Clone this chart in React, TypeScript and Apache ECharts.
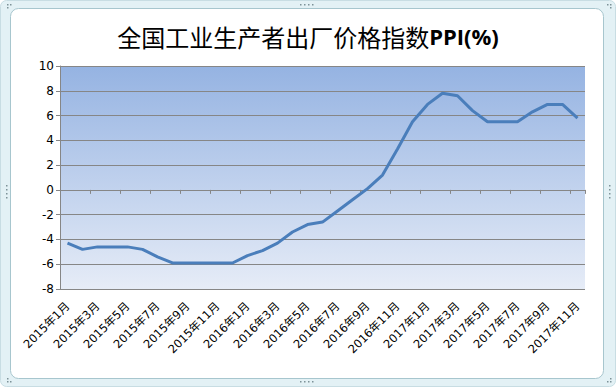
import React, { useEffect, useRef } from "react";
import * as echarts from "echarts";

const categories = [
  "2015年1月","2015年2月","2015年3月","2015年4月","2015年5月","2015年6月","2015年7月","2015年8月","2015年9月","2015年10月","2015年11月","2015年12月",
  "2016年1月","2016年2月","2016年3月","2016年4月","2016年5月","2016年6月","2016年7月","2016年8月","2016年9月","2016年10月","2016年11月","2016年12月",
  "2017年1月","2017年2月","2017年3月","2017年4月","2017年5月","2017年6月","2017年7月","2017年8月","2017年9月","2017年10月","2017年11月",
];
const ppi = [
  -4.3, -4.8, -4.6, -4.6, -4.6, -4.8, -5.4, -5.9, -5.9, -5.9, -5.9, -5.9,
  -5.3, -4.9, -4.3, -3.4, -2.8, -2.6, -1.7, -0.8, 0.1, 1.2, 3.3, 5.5,
  6.9, 7.8, 7.6, 6.4, 5.5, 5.5, 5.5, 6.3, 6.9, 6.9, 5.8,
];
const yMin = -8;
const yMax = 10;
const yStep = 2;
const titleMain = "全国工业生产者出厂价格指数";
const titleSuffix = "PPI(%)";

const FONT = "'DejaVu Sans', 'Noto Sans CJK SC', sans-serif";

function dots(x: number, y: number, n: number, dx: number, dy: number) {
  const out: any[] = [];
  for (let i = 0; i < n; i++) {
    out.push({
      type: "rect",
      shape: { x: x + i * dx, y: y + i * dy, width: 1.5, height: 1.5 },
      style: { fill: "#7d9298" },
      silent: true,
    });
  }
  return out;
}

export default function App() {
  const ref = useRef<HTMLDivElement>(null);
  useEffect(() => {
    if (!ref.current) return;
    const chart = echarts.init(ref.current, undefined, { renderer: "svg" });
    chart.setOption({
      animation: false,
      backgroundColor: "#ffffff",
      graphic: [
        {
          type: "rect",
          z: -10,
          shape: { x: 0.5, y: 0.5, width: 615, height: 386, r: 6 },
          style: { fill: "#e3f1f5", stroke: "#c8dde3", lineWidth: 1 },
          silent: true,
        },
        {
          type: "rect",
          z: -9,
          shape: { x: 10.5, y: 8.5, width: 593, height: 370, r: 8 },
          style: { fill: "#ffffff", stroke: "#a7c6ce", lineWidth: 1 },
          silent: true,
        },
        ...dots(300, 4, 4, 4, 0),
        ...dots(300, 381, 4, 4, 0),
        ...dots(6, 185, 4, 0, 4),
        ...dots(609, 185, 4, 0, 4),
        ...dots(7, 4, 2, 3, 0),
        ...dots(7, 7, 1, 0, 0),
        ...dots(607, 4, 2, 3, 0),
        ...dots(610, 7, 1, 0, 0),
        ...dots(7, 381, 2, 3, 0),
        ...dots(7, 378, 1, 0, 0),
        ...dots(607, 381, 2, 3, 0),
        ...dots(610, 378, 1, 0, 0),
      ],
      title: {
        text: `{a|${titleMain}}{b|${titleSuffix}}`,
        left: "center",
        top: 16,
        textStyle: {
          rich: {
            a: {
              fontFamily: "'Noto Sans CJK SC', sans-serif",
              fontSize: 24,
              fontWeight: "normal",
              color: "#000000",
              lineHeight: 30,
            },
            b: {
              fontFamily: "'Open Sans', 'DejaVu Sans', sans-serif",
              fontSize: 22,
              fontWeight: "bold",
              color: "#000000",
              lineHeight: 30,
            },
          },
        },
      },
      grid: {
        left: 60,
        right: 31,
        top: 66,
        bottom: 98,
        show: true,
        borderWidth: 0,
        backgroundColor: new echarts.graphic.LinearGradient(0, 0, 0, 1, [
          { offset: 0, color: "#95b3e2" },
          { offset: 1, color: "#e6ecf7" },
        ]),
      },
      xAxis: {
        type: "category",
        data: categories,
        boundaryGap: true,
        axisLine: { show: true, lineStyle: { color: "#868686", width: 1 } },
        axisTick: { show: true, interval: 1, length: 4, lineStyle: { color: "#868686" } },
        axisLabel: {
          interval: 1,
          rotate: 45,
          margin: 15,
          fontSize: 11.5,
          fontFamily: FONT,
          color: "#000000",
        },
        splitLine: { show: false },
      },
      yAxis: {
        type: "value",
        min: yMin,
        max: yMax,
        interval: yStep,
        axisLine: { show: true, lineStyle: { color: "#868686", width: 1 } },
        axisTick: { show: true, length: 4, lineStyle: { color: "#868686" } },
        axisLabel: { fontSize: 12, fontFamily: FONT, color: "#000000", margin: 6 },
        splitLine: { show: true, lineStyle: { color: "#868686", width: 1 } },
      },
      series: [
        {
          type: "line",
          data: ppi,
          symbol: "none",
          smooth: false,
          lineStyle: { color: "#4a7ebb", width: 3 },
          itemStyle: { color: "#4a7ebb" },
        },
      ],
    });
    return () => chart.dispose();
  }, []);
  return (
    <div
      ref={ref}
      style={{ position: "absolute", left: 0, top: 0, width: 616, height: 387 }}
    />
  );
}
